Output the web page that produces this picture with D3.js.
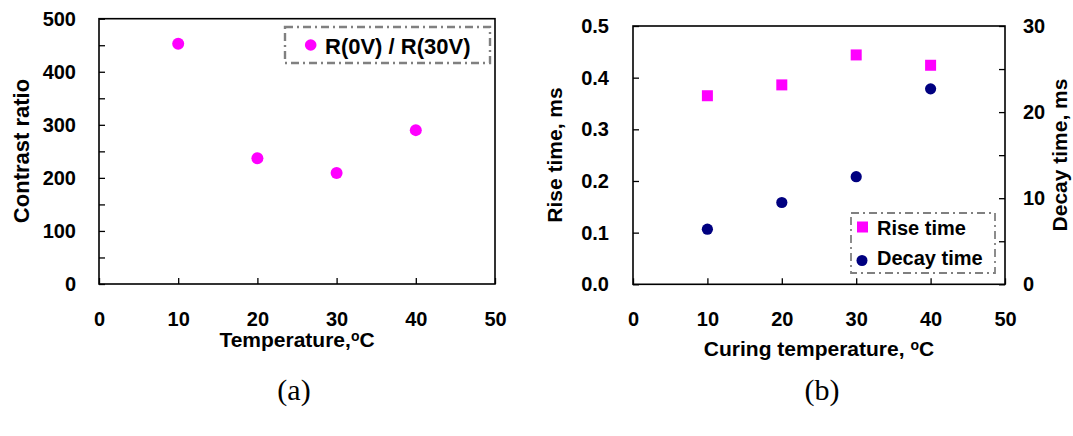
<!doctype html>
<html lang="en">

<head>
  <meta charset="utf-8">
  <style>
    body { margin: 0; background: #fff; }
    text { font-family: "Liberation Sans", Arial, sans-serif; fill: #000; }
    .tick text { font-size: 20px; font-weight: bold; }
    .tick line { stroke: #000; stroke-width: 1.3; }
    .ttl { font-size: 21px; font-weight: bold; }
  </style>
</head>

<body>
  <script src="https://cdnjs.cloudflare.com/ajax/libs/d3/7.8.5/d3.min.js"></script>
  <div id="chart"></div>

  <script>
    // panel (a): contrast ratio vs temperature
    var tempA = [10, 20, 30, 40];
    var contrast = [453, 237, 209, 290];
    var xTicksA = [0, 10, 20, 30, 40, 50];
    var yTicksA = [0, 100, 200, 300, 400, 500];
    var yMinorA = [50, 150, 250, 350, 450];

    // panel (b): rise / decay time vs curing temperature
    var tempB = [10, 20, 30, 40];
    var riseTime = [0.365, 0.386, 0.444, 0.424];
    var decayTime = [6.4, 9.5, 12.5, 22.7];
    var xTicksB = [0, 10, 20, 30, 40, 50];
    var yTicksRise = [0, 0.1, 0.2, 0.3, 0.4, 0.5];
    var yTicksDecay = [0, 5, 10, 15, 20, 25, 30];

    var width = 1073, height = 436;
    var magenta = '#ff00ff', navy = '#000080';

    var svg = d3.select('#chart').append('svg')
      .attr('width', width)
      .attr('height', height);

    // helper: draw an axis with inward ticks and no domain line
    function drawAxis(g, axis) {
      g.call(axis);
      g.select('.domain').remove();
      return g;
    }

    // dash-dot legend frame
    function legendBox(x, y, w, h, sw) {
      svg.append('rect')
        .attr('x', x).attr('y', y)
        .attr('width', w).attr('height', h)
        .attr('fill', 'none')
        .attr('stroke', '#808080')
        .attr('stroke-width', sw)
        .attr('stroke-dasharray', '8,4,2,4');
    }

    // ---------- panel (a) ----------
    var a = { x0: 99, x1: 495, y0: 18.7, y1: 284 };
    var xA = d3.scaleLinear().domain([0, 50]).range([a.x0, a.x1]);
    var yA = d3.scaleLinear().domain([0, 500]).range([a.y1, a.y0]);

    drawAxis(svg.append('g').attr('transform', 'translate(' + a.x0 + ',0)'),
      d3.axisLeft(yA).tickValues(yTicksA).tickSize(-6).tickPadding(23).tickFormat(d3.format('d')));
    drawAxis(svg.append('g').attr('transform', 'translate(' + a.x0 + ',0)'),
      d3.axisLeft(yA).tickValues(yMinorA).tickSize(-6).tickFormat(''));
    drawAxis(svg.append('g').attr('transform', 'translate(0,' + a.y1 + ')'),
      d3.axisBottom(xA).tickValues(xTicksA).tickSize(-6).tickPadding(28));

    svg.append('rect')
      .attr('x', a.x0).attr('y', a.y0)
      .attr('width', a.x1 - a.x0).attr('height', a.y1 - a.y0)
      .attr('fill', 'none').attr('stroke', '#000').attr('stroke-width', 1.6);

    svg.append('g').selectAll('circle').data(tempA)
      .enter().append('circle')
      .attr('cx', d => xA(d))
      .attr('cy', (d, i) => yA(contrast[i]))
      .attr('r', 6)
      .attr('fill', magenta);

    legendBox(285, 27, 205, 36, 2.4);
    svg.append('circle').attr('cx', 310.7).attr('cy', 45).attr('r', 5.8).attr('fill', magenta);
    svg.append('text').attr('x', 325).attr('y', 53.5)
      .style('font-size', '22px').style('font-weight', 'bold')
      .text('R(0V) / R(30V)');

    svg.append('text').attr('class', 'ttl')
      .attr('transform', 'translate(29,151) rotate(-90)')
      .attr('text-anchor', 'middle')
      .style('font-size', '22px')
      .text('Contrast ratio');

    var tA = svg.append('text').attr('class', 'ttl')
      .attr('x', (a.x0 + a.x1) / 2).attr('y', 347)
      .attr('text-anchor', 'middle');
    tA.append('tspan').text('Temperature,');
    tA.append('tspan').attr('baseline-shift', '45%').style('font-size', '14px').text('o');
    tA.append('tspan').attr('baseline-shift', '0').text('C');

    svg.append('text')
      .attr('x', 294).attr('y', 400)
      .attr('text-anchor', 'middle')
      .style('font-family', '"Liberation Serif", "Times New Roman", serif')
      .style('font-size', '30px')
      .text('(a)');

    // ---------- panel (b) ----------
    var b = { x0: 633, x1: 1005, y0: 26, y1: 284.3 };
    var xB = d3.scaleLinear().domain([0, 50]).range([b.x0, b.x1]);
    var yRise = d3.scaleLinear().domain([0, 0.5]).range([b.y1, b.y0]);
    var yDecay = d3.scaleLinear().domain([0, 30]).range([b.y1, b.y0]);

    drawAxis(svg.append('g').attr('transform', 'translate(' + b.x0 + ',0)'),
      d3.axisLeft(yRise).tickValues(yTicksRise).tickSize(-6).tickPadding(24).tickFormat(d3.format('.1f')));
    drawAxis(svg.append('g').attr('transform', 'translate(' + b.x1 + ',0)'),
      d3.axisRight(yDecay).tickValues(yTicksDecay).tickSize(-6).tickPadding(18)
        .tickFormat(d => d % 10 === 0 ? d : ''));
    drawAxis(svg.append('g').attr('transform', 'translate(0,' + b.y1 + ')'),
      d3.axisBottom(xB).tickValues(xTicksB).tickSize(-6).tickPadding(28));

    svg.append('rect')
      .attr('x', b.x0).attr('y', b.y0)
      .attr('width', b.x1 - b.x0).attr('height', b.y1 - b.y0)
      .attr('fill', 'none').attr('stroke', '#000').attr('stroke-width', 1.6);

    var sq = 11;
    svg.append('g').selectAll('rect').data(tempB)
      .enter().append('rect')
      .attr('x', d => xB(d) - sq / 2)
      .attr('y', (d, i) => yRise(riseTime[i]) - sq / 2)
      .attr('width', sq).attr('height', sq)
      .attr('fill', magenta);

    svg.append('g').selectAll('circle').data(tempB)
      .enter().append('circle')
      .attr('cx', d => xB(d))
      .attr('cy', (d, i) => yDecay(decayTime[i]))
      .attr('r', 5.6)
      .attr('fill', navy);

    legendBox(851, 213, 144, 60, 1.8);
    svg.append('rect').attr('x', 857).attr('y', 221.5).attr('width', 11).attr('height', 11).attr('fill', magenta);
    svg.append('text').attr('x', 877).attr('y', 235)
      .style('font-size', '20px').style('font-weight', 'bold').text('Rise time');
    svg.append('circle').attr('cx', 862).attr('cy', 260.5).attr('r', 5.5).attr('fill', navy);
    svg.append('text').attr('x', 877).attr('y', 265)
      .style('font-size', '20px').style('font-weight', 'bold').text('Decay time');

    svg.append('text').attr('class', 'ttl')
      .attr('transform', 'translate(562,155) rotate(-90)')
      .attr('text-anchor', 'middle')
      .text('Rise time, ms');
    svg.append('text').attr('class', 'ttl')
      .attr('transform', 'translate(1067,155) rotate(-90)')
      .attr('text-anchor', 'middle')
      .text('Decay time, ms');

    var tB = svg.append('text').attr('class', 'ttl')
      .attr('x', (b.x0 + b.x1) / 2).attr('y', 356)
      .attr('text-anchor', 'middle');
    tB.append('tspan').text('Curing temperature, ');
    tB.append('tspan').attr('baseline-shift', '45%').style('font-size', '14px').text('o');
    tB.append('tspan').attr('baseline-shift', '0').text('C');

    svg.append('text')
      .attr('x', 822).attr('y', 400)
      .attr('text-anchor', 'middle')
      .style('font-family', '"Liberation Serif", "Times New Roman", serif')
      .style('font-size', '30px')
      .text('(b)');
  </script>
</body>

</html>
